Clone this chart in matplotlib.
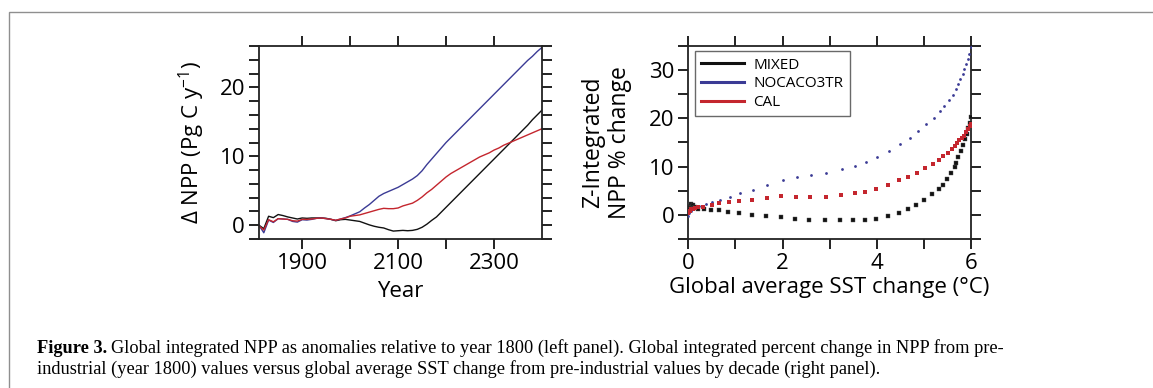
import numpy as np
import matplotlib
matplotlib.use("Agg")
import matplotlib.pyplot as plt
from matplotlib.patches import Rectangle

# left panel: global integrated NPP anomaly (Pg C / y), by decade
years = np.arange(1810, 2401, 10)
npp_mixed = [0.0, -0.5, 1.3, 1.1, 1.55, 1.4, 1.2, 1.05, 0.9, 1.05,
             1.0, 1.05, 1.05, 1.05, 1.0, 0.85, 0.65, 0.8, 0.85, 0.75,
             0.65, 0.55, 0.3, 0.05, -0.15, -0.3, -0.4, -0.65, -0.85, -0.8,
             -0.75, -0.8, -0.75, -0.6, -0.3, 0.15, 0.7, 1.2, 1.9, 2.6,
             3.3, 4.0, 4.7, 5.4, 6.1, 6.8, 7.5, 8.2, 8.9, 9.6,
             10.3, 11.0, 11.7, 12.4, 13.1, 13.8, 14.5, 15.3, 16.0, 16.7]
npp_nocaco3 = [0.0, -1.1, 0.75, 0.4, 0.95, 0.9, 0.85, 0.55, 0.45, 0.8,
               0.75, 0.85, 1.0, 1.05, 0.95, 0.85, 0.7, 0.9, 1.1, 1.35,
               1.65, 1.95, 2.5, 3.0, 3.6, 4.2, 4.6, 4.9, 5.2, 5.5,
               5.9, 6.3, 6.7, 7.2, 7.9, 8.8, 9.6, 10.4, 11.2, 12.0,
               12.7, 13.4, 14.1, 14.8, 15.5, 16.2, 16.9, 17.6, 18.3, 19.0,
               19.7, 20.4, 21.1, 21.8, 22.5, 23.2, 23.9, 24.5, 25.2, 25.8]
npp_cal = [-0.1, -0.7, 0.8, 0.5, 0.95, 0.9, 0.85, 0.65, 0.6, 0.85,
           0.85, 0.9, 1.0, 1.05, 0.95, 0.85, 0.72, 0.9, 1.05, 1.3,
           1.4, 1.5, 1.7, 1.9, 2.1, 2.3, 2.45, 2.4, 2.4, 2.5,
           2.8, 3.0, 3.2, 3.6, 4.1, 4.7, 5.2, 5.8, 6.4, 7.0,
           7.5, 7.9, 8.3, 8.7, 9.1, 9.5, 9.9, 10.2, 10.5, 10.9,
           11.2, 11.6, 11.9, 12.2, 12.5, 12.8, 13.1, 13.4, 13.7, 14.0]

# right panel: % change in NPP vs SST change (deg C), by decade
sst_mixed = [0.0, 0.03, 0.06, 0.08, 0.1, 0.12, 0.15, 0.2, 0.34, 0.48,
             0.65, 0.85, 1.08, 1.35, 1.65, 1.97, 2.27, 2.57, 2.9, 3.22,
             3.5, 3.74, 3.98, 4.23, 4.47, 4.66, 4.84, 5.01, 5.18, 5.32,
             5.4, 5.5, 5.58, 5.66, 5.69, 5.73, 5.79, 5.84, 5.87, 5.91,
             5.94, 5.98, 6.0]
pct_mixed = [1.5, 1.9, 2.3, 1.6, 2.0, 1.4, 1.7, 1.3, 1.24, 1.1,
             1.0, 0.68, 0.41, 0.0, -0.3, -0.35, -0.77, -1.0, -1.15, -1.1,
             -1.1, -1.1, -0.9, -0.3, 0.48, 1.24, 2.1, 3.17, 4.35, 5.4,
             6.27, 7.5, 8.6, 9.8, 10.8, 11.9, 13.2, 14.5, 15.6, 16.8,
             17.9, 19.1, 20.2]
sst_cal = [0.0, 0.03, 0.06, 0.1, 0.15, 0.2, 0.32, 0.5, 0.66, 0.86,
           1.08, 1.35, 1.66, 1.97, 2.28, 2.58, 2.92, 3.24, 3.53, 3.75,
           3.99, 4.23, 4.47, 4.67, 4.85, 5.03, 5.19, 5.32, 5.41, 5.51,
           5.6, 5.66, 5.71, 5.75, 5.8, 5.85, 5.89, 5.93, 5.97, 6.0]
pct_cal = [0.3, 0.8, 1.2, 1.3, 1.5, 1.6, 1.7, 2.07, 2.4, 2.7,
           2.9, 3.17, 3.5, 3.8, 3.72, 3.72, 3.75, 4.2, 4.55, 4.8,
           5.45, 6.27, 7.2, 7.9, 8.7, 9.6, 10.5, 11.4, 12.1, 12.8,
           13.6, 14.3, 14.9, 15.4, 15.9, 16.4, 17.1, 17.7, 18.3, 18.8]
sst_nocaco3 = [0.0, 0.02, 0.05, 0.1, 0.15, 0.2, 0.28, 0.37, 0.51, 0.68,
               0.89, 1.1, 1.37, 1.68, 2.0, 2.3, 2.6, 2.93, 3.26, 3.54,
               3.77, 4.0, 4.25, 4.5, 4.7, 4.87, 5.05, 5.21, 5.34, 5.43,
               5.53, 5.62, 5.69, 5.73, 5.77, 5.82, 5.86, 5.9, 5.93, 5.96,
               6.0]
pct_nocaco3 = [-0.2, 0.4, 0.8, 1.2, 1.5, 1.7, 1.9, 2.3, 2.7, 3.17,
               3.7, 4.5, 5.2, 6.27, 7.3, 7.8, 8.3, 8.76, 9.5, 10.2,
               10.9, 11.9, 13.3, 14.7, 16.0, 17.3, 18.7, 20.1, 21.4, 22.5,
               23.7, 24.9, 26.0, 27.0, 28.1, 29.2, 30.2, 31.3, 32.3, 33.3,
               34.7]

col_mixed = "#111111"
col_noca = "#3b3b95"
col_cal = "#c4262e"

plt.rcParams["font.family"] = ["Open Sans", "DejaVu Sans"]
plt.rcParams["mathtext.fontset"] = "custom"
plt.rcParams["mathtext.rm"] = "Open Sans"

W, H = 1153, 388
fig = plt.figure(figsize=(W / 100, H / 100), dpi=100)

# grey frame of the figure box (only left/top edges are inside the image)
fig.patches.append(Rectangle((9 / W, -0.2), 1.2, 1.2 - 12 / H,
                             transform=fig.transFigure, fill=False,
                             edgecolor="#8f8f8f", linewidth=1.0))


def style_axes(ax):
    for s in ax.spines.values():
        s.set_linewidth(1.3)
        s.set_color("#222222")
    ax.tick_params(direction="out", length=7, width=1.4, labelsize=16,
                   top=True, right=True, color="#222222", pad=3)


# left panel
ax1 = fig.add_axes([259 / W, 1 - 239 / H, 283 / W, 193 / H])
ax1.plot(years, npp_mixed, color=col_mixed, lw=1.0)
ax1.plot(years, npp_nocaco3, color=col_noca, lw=1.0)
ax1.plot(years, npp_cal, color=col_cal, lw=1.0)
ax1.set_xlim(1810, 2400)
ax1.set_ylim(-2, 26)
ax1.set_xticks([1900, 2000, 2100, 2200, 2300])
ax1.set_xticklabels(["1900", "", "2100", "", "2300"])
yt = list(range(-2, 27, 2))
ax1.set_yticks(yt)
ax1.set_yticklabels([str(v) if v in (0, 10, 20) else "" for v in yt])
style_axes(ax1)
ax1.set_xlabel("Year", fontsize=16, labelpad=5)
ax1.set_ylabel(r"Δ NPP (Pg C y$^{\mathregular{-1}}$)", fontsize=16, labelpad=9)

# right panel
ax2 = fig.add_axes([688.3 / W, 1 - 239 / H, 282.7 / W, 193.3 / H])
ax2.scatter(sst_mixed, pct_mixed, marker="s", s=8, color=col_mixed,
            edgecolors="#555555", linewidths=0.3, zorder=3)
ax2.scatter(sst_nocaco3, pct_nocaco3, marker="o", s=4.0, color=col_noca,
            linewidths=0, zorder=3)
ax2.scatter(sst_cal, pct_cal, marker="s", s=5.5, color=col_cal,
            linewidths=0, zorder=3)
ax2.plot([], [], color=col_mixed, lw=2.2, label="MIXED")
ax2.plot([], [], color=col_noca, lw=2.2, label="NOCACO3TR")
ax2.plot([], [], color=col_cal, lw=2.2, label="CAL")
ax2.set_xlim(0, 6)
ax2.set_ylim(-5, 35)
xt = list(range(0, 7))
ax2.set_xticks(xt)
ax2.set_xticklabels([str(v) if v % 2 == 0 else "" for v in xt])
yt2 = list(range(-5, 36, 5))
ax2.set_yticks(yt2)
ax2.set_yticklabels([str(v) if v in (0, 10, 20, 30) else "" for v in yt2])
style_axes(ax2)
ax2.set_xlabel("Global average SST change (°C)", fontsize=16, labelpad=2)
ax2.set_ylabel("Z-Integrated\nNPP % change", fontsize=16.5, labelpad=12,
               linespacing=1.2)
leg = ax2.legend(loc="upper left", bbox_to_anchor=(0.025, 0.97), fontsize=11,
                 frameon=True, fancybox=False, handlelength=2.8,
                 handletextpad=0.6, borderpad=0.4, labelspacing=0.25,
                 borderaxespad=0)
leg.get_frame().set_edgecolor("#444444")
leg.get_frame().set_linewidth(1.0)

# caption
cap_kw = dict(family=["Liberation Serif", "DejaVu Serif"], va="baseline",
              ha="left", fontsize=13.2)
line1 = ("Global integrated NPP as anomalies relative to year 1800 (left panel). "
         "Global integrated percent change in NPP from pre-")
line2 = ("industrial (year 1800) values versus global average SST change "
         "from pre-industrial values by decade (right panel).")
t_bold = fig.text(37 / W, 1 - 353 / H, "Figure 3.", weight="bold", **cap_kw)
fig.canvas.draw()
bb = t_bold.get_window_extent(fig.canvas.get_renderer())
fig.text((bb.x1 + 4) / W, 1 - 353 / H, line1, **cap_kw)
fig.text(37 / W, 1 - 374 / H, line2, **cap_kw)

fig.savefig("out.png", dpi=100)
